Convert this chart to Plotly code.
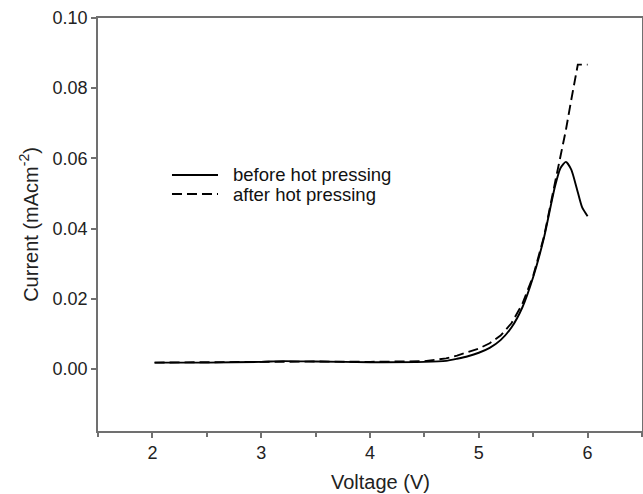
import plotly.graph_objects as go

# before hot pressing (solid)
before_x = [2.02, 2.5, 3.0, 3.2, 3.5, 4.0, 4.5, 4.7, 4.8, 4.9, 5.0, 5.1, 5.2, 5.3, 5.4,
            5.5, 5.6, 5.65, 5.7, 5.75, 5.8, 5.85, 5.9, 5.95, 6.0]
before_y = [0.0018, 0.0018, 0.0020, 0.0022, 0.0021, 0.0019, 0.0020, 0.0023, 0.0029, 0.0036,
            0.0046, 0.0060, 0.0082, 0.0118, 0.0175, 0.0262, 0.0375, 0.0448, 0.0520, 0.0572,
            0.0590, 0.0568, 0.0515, 0.0460, 0.0435]

# after hot pressing (dashed)
after_x = [2.02, 2.5, 3.0, 3.5, 4.0, 4.5, 4.7, 4.8, 4.9, 5.0, 5.1, 5.2, 5.3, 5.4, 5.5,
           5.6, 5.7, 5.75, 5.8, 5.85, 5.91, 6.0]
after_y = [0.0018, 0.0018, 0.0020, 0.0021, 0.0020, 0.0022, 0.0030, 0.0038, 0.0047, 0.0058,
           0.0073, 0.0095, 0.0130, 0.0185, 0.0265, 0.0378, 0.0530, 0.0605, 0.0680, 0.0767,
           0.0867, 0.0867]

series_names = ["before hot pressing", "after hot pressing"]
x_ticks = [2, 3, 4, 5, 6]
y_ticks = [0.00, 0.02, 0.04, 0.06, 0.08, 0.10]
x_title = "Voltage (V)"
y_title = "Current (mAcm<sup>-2</sup>)"

FONT = "Liberation Sans, Arial, Helvetica"
SOLID = dict(color="black", width=1.9)
DASHED = dict(color="black", width=1.9, dash="10px,5px")

fig = go.Figure()
fig.add_trace(go.Scatter(x=before_x, y=before_y, mode="lines", name=series_names[0],
                         showlegend=False,
                         line=dict(**SOLID, shape="spline", smoothing=0.6)))
fig.add_trace(go.Scatter(x=after_x, y=after_y, mode="lines", name=series_names[1],
                         showlegend=False, line=DASHED))

# legend drawn inside the plot (line sample + label)
legend_rows = [(0.6199, SOLID, series_names[0]), (0.5738, DASHED, series_names[1])]
for ypos, style, label in legend_rows:
    fig.add_shape(type="line", xref="paper", yref="paper", x0=0.136, x1=0.2206,
                  y0=ypos, y1=ypos, line=style)
    fig.add_annotation(xref="paper", yref="paper", x=0.2445, y=ypos, text=label,
                       showarrow=False, xanchor="left", yanchor="middle",
                       font=dict(family=FONT, size=18.5, color="#111"))

# x-axis title (placed slightly right of centre, as in the original)
fig.add_annotation(xref="paper", yref="paper", x=0.52, y=-0.124, text=x_title,
                   showarrow=False, xanchor="center", yanchor="middle",
                   font=dict(family=FONT, size=20, color="#222"))

axis_common = dict(showgrid=False, zeroline=False, showline=True, linecolor="#707070",
                   linewidth=1.5, mirror=True, ticks="outside", tickcolor="#707070",
                   ticklen=5, tickwidth=1.5, automargin=False,
                   tickfont=dict(family=FONT, size=18, color="#222"))

fig.update_layout(
    width=643, height=494,
    margin=dict(l=98, r=1, t=18, b=63, autoexpand=False),
    plot_bgcolor="white", paper_bgcolor="white",
    font=dict(family=FONT, size=18, color="#222"),
    xaxis=dict(range=[1.5, 6.5], tickvals=x_ticks,
               minor=dict(dtick=0.5, ticks="outside", ticklen=4, tickcolor="#707070"),
               **axis_common),
    yaxis=dict(range=[-0.0177, 0.10], tickvals=y_ticks, tickformat=".2f",
               title=dict(text=y_title, font=dict(size=20), standoff=9),
               **axis_common),
    showlegend=False,
)

fig.write_html("out.html", config={"displayModeBar": False},
               post_script="document.body.style.margin='0';document.body.style.overflow='hidden';")
